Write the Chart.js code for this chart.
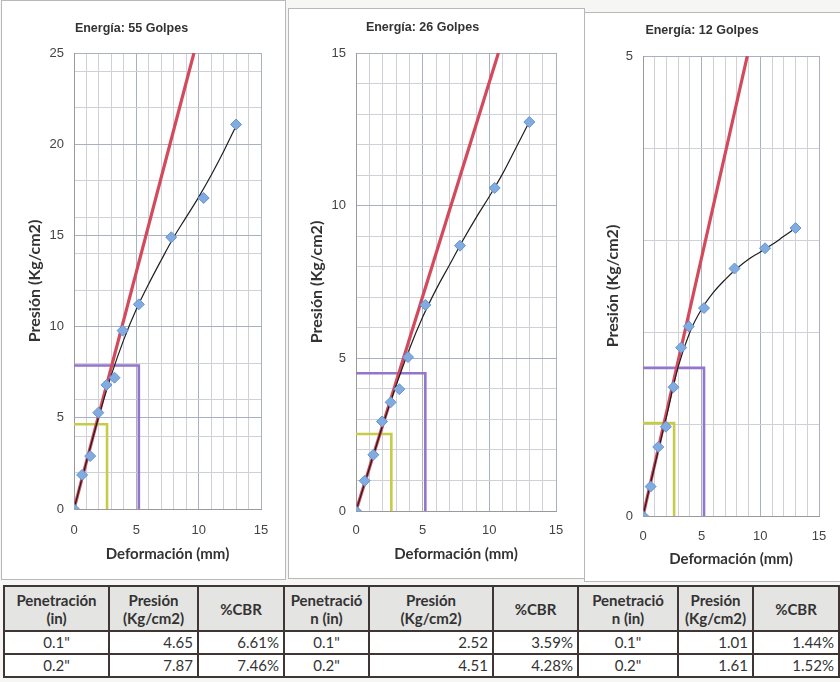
<!DOCTYPE html>
<html lang="es">
<head>
<meta charset="utf-8">
<title>CBR - Presión vs Deformación</title>
<script src="https://cdn.jsdelivr.net/npm/chart.js@4.4.1/dist/chart.umd.min.js"></script>
<style>
  html, body { margin: 0; padding: 0; }
  body { width: 840px; height: 682px; position: relative; background: #f6f6f4; overflow: hidden; font-family: Lato, 'Liberation Sans', sans-serif; }
  .panel { position: absolute; background: #fff; border: 1px solid #b8b8b8; }
  .panel canvas { position: absolute; left: 0; top: 0; }
  table { position: absolute; left: 3px; top: 585px; width: 835px; border-collapse: collapse; table-layout: fixed; color: #333; font-size: 15px; }
  th, td { border: 2px solid #3f3535; padding: 0 4px; }
  th { background: #e4e4e2; font-weight: bold; line-height: 18px; height: 43px; text-align: center; }
  td { background: #fff; height: 21px; line-height: 19px; text-align: right; }
  td.c { text-align: center; }
</style>
</head>
<body>

<div class="panel" style="left:1px; top:0px; width:283px; height:578px;"><canvas id="chart55" width="283" height="578"></canvas></div>
<div class="panel" style="left:288px; top:8px; width:295px; height:569px;"><canvas id="chart26" width="295" height="569"></canvas></div>
<div class="panel" style="left:584px; top:12px; width:256px; height:568px;"><canvas id="chart12" width="256" height="568"></canvas></div>

<table id="tablaCBR">
  <colgroup>
    <col style="width:105px"><col style="width:89px"><col style="width:86px">
    <col style="width:85px"><col style="width:124px"><col style="width:85px">
    <col style="width:100px"><col style="width:75px"><col style="width:86px">
  </colgroup>
  <thead>
    <tr>
      <th>Penetración<br>(in)</th><th>Presión<br>(Kg/cm2)</th><th>%CBR</th>
      <th>Penetració<br>n (in)</th><th>Presión<br>(Kg/cm2)</th><th>%CBR</th>
      <th>Penetració<br>n (in)</th><th>Presión<br>(Kg/cm2)</th><th>%CBR</th>
    </tr>
  </thead>
  <tbody id="tablaBody"></tbody>
</table>

<script>
// ========== Datos ==========
// deformación de los puntos del ensayo (mm)
const deformacion = [0, 0.65, 1.3, 1.95, 2.6, 3.25, 3.9, 5.2, 7.8, 10.4, 13.0];
const presion55 = [0, 1.87, 2.90, 5.28, 6.80, 7.20, 9.78, 11.22, 14.90, 17.05, 21.08];
const presion26 = [0, 0.99, 1.84, 2.93, 3.56, 3.99, 5.04, 6.75, 8.69, 10.58, 12.74];
const presion12 = [0, 0.32, 0.75, 0.97, 1.40, 1.83, 2.06, 2.26, 2.69, 2.91, 3.13];

// curva de ajuste (negra)
const curvaX = [0, 1, 2, 3, 4, 5, 6, 7, 8, 9, 10, 11, 12, 13];
const curva55 = [0, 2.6, 5.1, 7.35, 9.3, 10.95, 12.35, 13.65, 14.9, 16.0, 17.1, 18.3, 19.6, 21.0];
const curva26 = [0, 1.4, 2.8, 4.1, 5.3, 6.35, 7.25, 8.05, 8.85, 9.6, 10.3, 11.05, 11.9, 12.75];
const curva12 = [0, 0.55, 1.08, 1.62, 2.0, 2.25, 2.43, 2.57, 2.69, 2.79, 2.87, 2.95, 3.04, 3.13];

// recta roja (tramo inicial)
const recta55 = { x: [0, 9.62], y: [0, 25] };
const recta26 = { x: [0, 10.68], y: [0, 15] };
const recta12 = { x: [0, 8.89], y: [0, 5] };

// resultados CBR
const penetracion = ['0.1"', '0.2"'];
const penetracionMm = [2.65, 5.2];
const cbrPresion55 = [4.65, 7.87];
const cbrPresion26 = [2.52, 4.51];
const cbrPresion12 = [1.01, 1.61];
const cbr55 = ['6.61%', '7.46%'];
const cbr26 = ['3.59%', '4.28%'];
const cbr12 = ['1.44%', '1.52%'];

// ========== Funciones auxiliares ==========
function puntos(xs, ys) {
  return xs.map((x, i) => ({ x, y: ys[i] }));
}

function marcas(max, menor, mayor) {
  const set = new Set();
  for (let v = 0; v <= max + 1e-9; v += menor) set.add(+v.toFixed(4));
  for (let v = 0; v <= max + 1e-9; v += mayor) set.add(v);
  set.add(max);
  return [...set].sort((a, b) => a - b).map(v => ({ value: v }));
}

function gridColor(ctx) {
  return ctx.tick && ctx.tick.value % 5 === 0 ? '#a9b0c0' : '#cfd1d6';
}

function crearGrafico(c) {
  new Chart(document.getElementById(c.id), {
    type: 'scatter',
    data: {
      datasets: [
        { data: puntos(deformacion, c.presion), pointStyle: 'rectRot', pointRadius: 5.5,
          backgroundColor: '#82abe0', borderColor: '#6394d2', borderWidth: 1 },
        { data: puntos(curvaX, c.curva), showLine: true, borderColor: '#1e1e1e', borderWidth: 1.2,
          pointRadius: 0, tension: 0.4 },
        { data: puntos(c.recta.x, c.recta.y), showLine: true, borderColor: '#d24a5c', borderWidth: 3.2, pointRadius: 0 },
        { data: [{ x: 0, y: c.cbrP[1] }, { x: penetracionMm[1], y: c.cbrP[1] }, { x: penetracionMm[1], y: 0 }],
          showLine: true, borderColor: '#9375cc', borderWidth: 2.6, pointRadius: 0 },
        { data: [{ x: 0, y: c.cbrP[0] }, { x: penetracionMm[0], y: c.cbrP[0] }, { x: penetracionMm[0], y: 0 }],
          showLine: true, borderColor: '#c6cb48', borderWidth: 2.6, pointRadius: 0 }
      ]
    },
    options: {
      responsive: false,
      animation: false,
      layout: { padding: { left: 0, right: c.padRight, top: 0, bottom: 0 } },
      plugins: {
        legend: { display: false },
        tooltip: { enabled: false },
        title: {
          display: true, text: c.titulo, color: '#333',
          font: { family: 'Liberation Sans', size: 12.5, weight: 'bold' },
          padding: { top: c.titTop, bottom: c.titBottom }
        }
      },
      scales: {
        x: {
          type: 'linear', min: 0, max: 15,
          afterBuildTicks: s => { s.ticks = marcas(15, 1, 5); },
          afterFit: s => { s.height = c.xHeight; },
          ticks: { autoSkip: false, maxRotation: 0, padding: c.xTickPad, color: '#444',
                   font: { family: 'Liberation Sans', size: 13 },
                   callback: v => (v % 5 === 0 ? v : '') },
          grid: { color: gridColor, drawTicks: false },
          border: { color: '#9a9a9a' },
          title: { display: true, text: 'Deformación (mm)', color: '#333',
                   font: { family: 'Lato', size: 15, weight: 'bold' }, padding: { top: 0, bottom: c.xTitPad } }
        },
        y: {
          type: 'linear', min: 0, max: c.yMax,
          afterBuildTicks: s => { s.ticks = marcas(c.yMax, c.yMenor, 5); },
          afterFit: s => { s.width = c.yWidth; },
          ticks: { autoSkip: false, padding: 10, color: '#444',
                   font: { family: 'Liberation Sans', size: 13 },
                   callback: v => (v % 5 === 0 ? v : '') },
          grid: { color: gridColor, drawTicks: false },
          border: { color: '#9a9a9a' },
          title: { display: true, text: 'Presión (Kg/cm2)', color: '#333',
                   font: { family: 'Lato', size: 16, weight: 'bold' }, padding: { top: c.yTitPad, bottom: 0 } }
        }
      }
    }
  });
}

function llenarTabla() {
  const tbody = document.getElementById('tablaBody');
  penetracion.forEach((p, i) => {
    const row = tbody.insertRow();
    [[cbrPresion55, cbr55], [cbrPresion26, cbr26], [cbrPresion12, cbr12]].forEach(([pr, cb]) => {
      const c0 = row.insertCell(); c0.className = 'c'; c0.innerText = p;
      row.insertCell().innerText = pr[i].toFixed(2);
      row.insertCell().innerText = cb[i];
    });
  });
}

// ========== Inicialización ==========
crearGrafico({ id: 'chart55', titulo: 'Energía: 55 Golpes', presion: presion55, curva: curva55, recta: recta55,
  cbrP: cbrPresion55, yMax: 25, yMenor: 2, padRight: 24, titTop: 20.5, titBottom: 16.5,
  yWidth: 72, xHeight: 70, xTickPad: 14, xTitPad: 16, yTitPad: 23 });
crearGrafico({ id: 'chart26', titulo: 'Energía: 26 Golpes', presion: presion26, curva: curva26, recta: recta26,
  cbrP: cbrPresion26, yMax: 15, yMenor: 1, padRight: 28, titTop: 11.5, titBottom: 17.5,
  yWidth: 67, xHeight: 67, xTickPad: 12, xTitPad: 15, yTitPad: 18 });
crearGrafico({ id: 'chart12', titulo: 'Energía: 12 Golpes', presion: presion12, curva: curva12, recta: recta12,
  cbrP: cbrPresion12, yMax: 5, yMenor: 1, padRight: 22, titTop: 10.5, titBottom: 17.5,
  yWidth: 58, xHeight: 65, xTickPad: 13, xTitPad: 13, yTitPad: 18 });
llenarTabla();
</script>
</body>
</html>
